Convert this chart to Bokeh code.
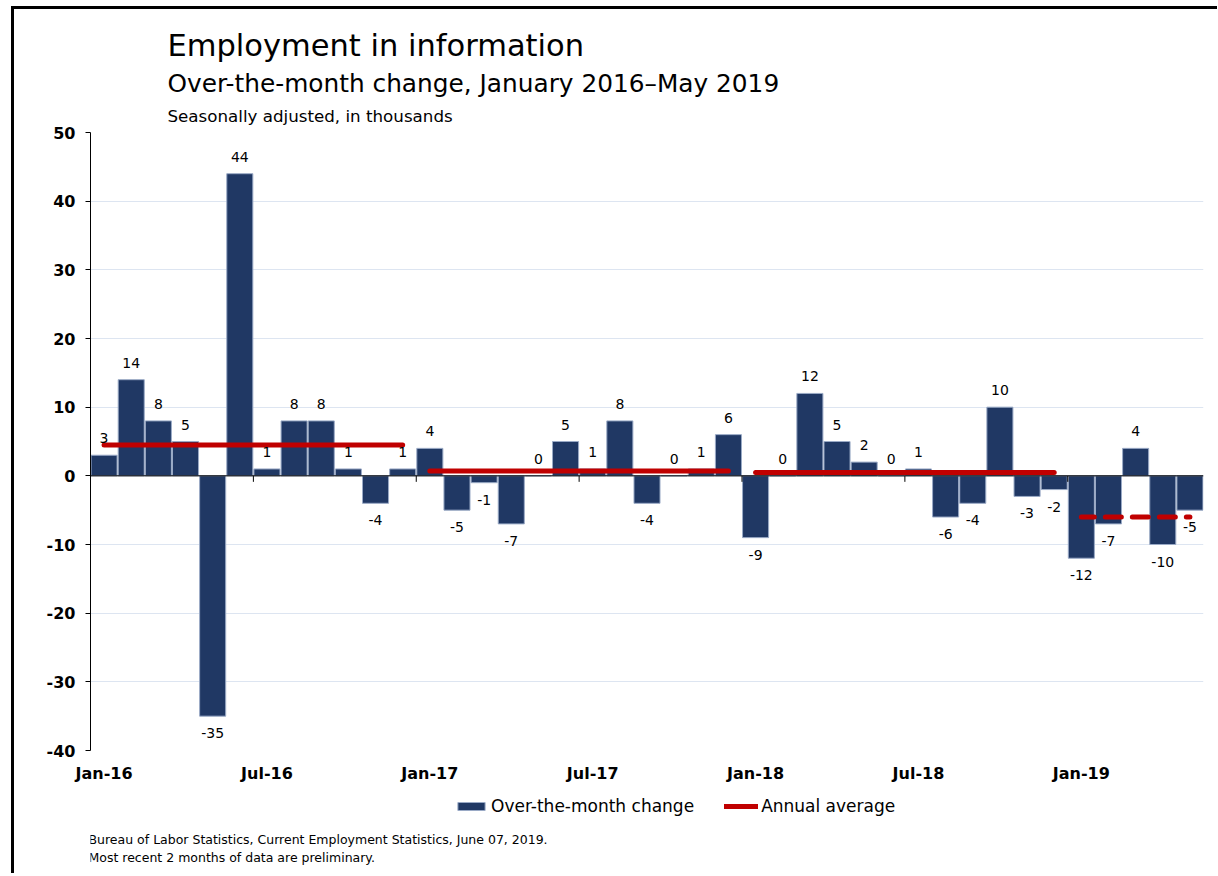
import math
from bokeh.plotting import figure
from bokeh.layouts import column
from bokeh.models import (ColumnDataSource, Title, Label, Legend, LegendItem,
                          FixedTicker, Span, Range1d)
from bokeh.core.properties import value
from bokeh.embed import file_html
from bokeh.resources import INLINE

# ---------------- data ----------------
months = ["Jan-16", "Feb-16", "Mar-16", "Apr-16", "May-16", "Jun-16",
          "Jul-16", "Aug-16", "Sep-16", "Oct-16", "Nov-16", "Dec-16",
          "Jan-17", "Feb-17", "Mar-17", "Apr-17", "May-17", "Jun-17",
          "Jul-17", "Aug-17", "Sep-17", "Oct-17", "Nov-17", "Dec-17",
          "Jan-18", "Feb-18", "Mar-18", "Apr-18", "May-18", "Jun-18",
          "Jul-18", "Aug-18", "Sep-18", "Oct-18", "Nov-18", "Dec-18",
          "Jan-19", "Feb-19", "Mar-19", "Apr-19", "May-19"]
change = [3, 14, 8, 5, -35, 44, 1, 8, 8, 1, -4, 1,
          4, -5, -1, -7, 0, 5, 1, 8, -4, 0, 1, 6,
          -9, 0, 12, 5, 2, 0, 1, -6, -4, 10, -3, -2,
          -12, -7, 4, -10, -5]
years = ["16", "17", "18", "19"]
annual_avg = [4.5, 0.7, 0.5, -6.0]
tick_labels = ["Jan-16", "Jul-16", "Jan-17", "Jul-17", "Jan-18", "Jul-18", "Jan-19"]
y_ticks = [-40, -30, -20, -10, 0, 10, 20, 30, 40, 50]
series_names = ["Over-the-month change", "Annual average"]
notes = ["Bureau of Labor Statistics, Current Employment Statistics, June 07, 2019.",
         "Most recent 2 months of data are preliminary."]

FONT = "DejaVu Sans"
NAVY = "#203864"
BAR_EDGE = "#9aaac6"
RED = "#c00000"
NAN = float("nan")

# ---------------- sources ----------------
xs = list(range(len(months)))
src = ColumnDataSource(dict(
    x=xs,
    change=change,
    label=[str(v) for v in change],
    yoff=[-17 if v >= 0 else 17 for v in change],
))

solid_x, solid_y = [], []
dash_x, dash_y = None, None
for i, (yr, avg) in enumerate(zip(years, annual_avg)):
    idx = [k for k, m in enumerate(months) if m.endswith(yr)]
    seg_x = [min(idx), max(idx)]
    seg_y = [avg, avg]
    if i < len(years) - 1:
        solid_x.append(seg_x)
        solid_y.append(seg_y)
    else:
        dash_x, dash_y = seg_x, seg_y

tick_pos = [months.index(t) for t in tick_labels]
boundaries = [t - 0.5 for t in tick_pos]

# ---------------- main figure ----------------
p = figure(frame_width=1113, frame_height=618,
           x_range=Range1d(-0.5, len(months) - 0.5), y_range=Range1d(-40, 50),
           output_backend="svg", toolbar_location=None,
           min_border_left=76, min_border_right=7,
           min_border_top=123, min_border_bottom=35)
p.outline_line_color = None
p.background_fill_color = "white"
p.border_fill_color = "white"

p.xgrid.grid_line_color = None
p.ygrid.grid_line_color = "#dde5f1"
p.ygrid.grid_line_width = 1
p.ygrid.ticker = FixedTicker(ticks=y_ticks)

# y axis
p.yaxis.ticker = FixedTicker(ticks=y_ticks)
p.yaxis.major_label_overrides = {t: str(t) for t in y_ticks}
p.yaxis.axis_line_color = "black"
p.yaxis.major_tick_line_color = "black"
p.yaxis.major_tick_out = 5
p.yaxis.major_tick_in = 0
p.yaxis.minor_tick_line_color = None
p.yaxis.major_label_text_font = FONT
p.yaxis.major_label_text_font_style = "bold"
p.yaxis.major_label_text_font_size = "16px"
p.yaxis.major_label_text_color = "black"
p.yaxis.major_label_standoff = 10

# x axis (labels only)
p.xaxis.ticker = FixedTicker(ticks=tick_pos)
p.xaxis.major_label_overrides = {pos: lab for pos, lab in zip(tick_pos, tick_labels)}
p.xaxis.axis_line_color = None
p.xaxis.major_tick_line_color = None
p.xaxis.minor_tick_line_color = None
p.xaxis.major_label_text_font = FONT
p.xaxis.major_label_text_font_style = "bold"
p.xaxis.major_label_text_font_size = "16px"
p.xaxis.major_label_text_color = "black"
p.xaxis.major_label_standoff = 7

# bars
p.vbar(x="x", top="change", bottom=0, width=0.96, source=src,
       fill_color=NAVY, line_color=BAR_EDGE, line_width=1)

# zero line and its ticks
p.add_layout(Span(location=0, dimension="width", line_color="black", line_width=1))
p.ray(x=boundaries, y=[0] * len(boundaries), length=6, length_units="screen",
      angle=-math.pi / 2, line_color="black", line_width=1)

# annual averages
p.multi_line(xs=solid_x, ys=solid_y, line_color=RED, line_width=5, line_cap="round")
p.line(x=dash_x, y=dash_y, line_color=RED, line_width=5, line_cap="round",
       line_dash="16 11", line_dash_offset=3)

# data labels
p.text(x="x", y="change", text="label", y_offset="yoff", source=src,
       text_align="center", text_baseline="middle",
       text_font=value(FONT), text_font_size="14px", text_color="black")

# titles (first added sits nearest the plot)
def add_title(text, size, standoff):
    p.add_layout(Title(text=text, align="left", offset=77, standoff=standoff,
                       text_font=FONT, text_font_size=size,
                       text_font_style="normal", text_color="black"), "above")

add_title("Seasonally adjusted, in thousands", "16.7px", 14)
add_title("Over-the-month change, January 2016\u2013May 2019", "24.8px", -3)
add_title("Employment in information", "30.5px", 12)

# ---------------- legend + source notes strip ----------------
q = figure(width=1196, height=88, x_range=Range1d(0, 1), y_range=Range1d(0, 1),
           output_backend="svg", toolbar_location=None,
           x_axis_type=None, y_axis_type=None,
           min_border_left=0, min_border_right=0, min_border_top=0, min_border_bottom=0)
q.outline_line_color = None
q.xgrid.grid_line_color = None
q.ygrid.grid_line_color = None
q.background_fill_color = "white"
q.border_fill_color = "white"

# legend proxies (no drawable data, only used for the legend swatches)
leg_bar = q.vbar(x=[NAN], top=[NAN], bottom=0, width=0.9,
                 fill_color=NAVY, line_color=BAR_EDGE, line_width=1)
leg_line = q.line(x=[NAN, NAN], y=[NAN, NAN], line_color=RED, line_width=5,
                  line_cap="round")

legend = Legend(items=[LegendItem(label=series_names[0], renderers=[leg_bar]),
                       LegendItem(label=series_names[1], renderers=[leg_line])],
                orientation="horizontal", location=(364, 57),
                glyph_width=34, glyph_height=10, label_standoff=3, spacing=30,
                padding=3, margin=0, border_line_color=None,
                background_fill_alpha=0,
                label_text_font=FONT, label_text_font_size="17px",
                label_text_color="black")
q.add_layout(legend, "center")

for txt, yy in zip(notes, [34, 16]):
    q.add_layout(Label(x=-2, y=yy, x_units="screen", y_units="screen", text=txt,
                       text_font=FONT, text_font_size="12.5px", text_color="black",
                       text_baseline="alphabetic", text_align="left"))

page = column(p, q, spacing=0)
page.styles = {"margin-left": "11px", "margin-top": "6px",
               "padding-right": "7px",
               "border-top": "3px solid black", "border-left": "3px solid black"}

open("out.html", "w").write(file_html(page, INLINE))
